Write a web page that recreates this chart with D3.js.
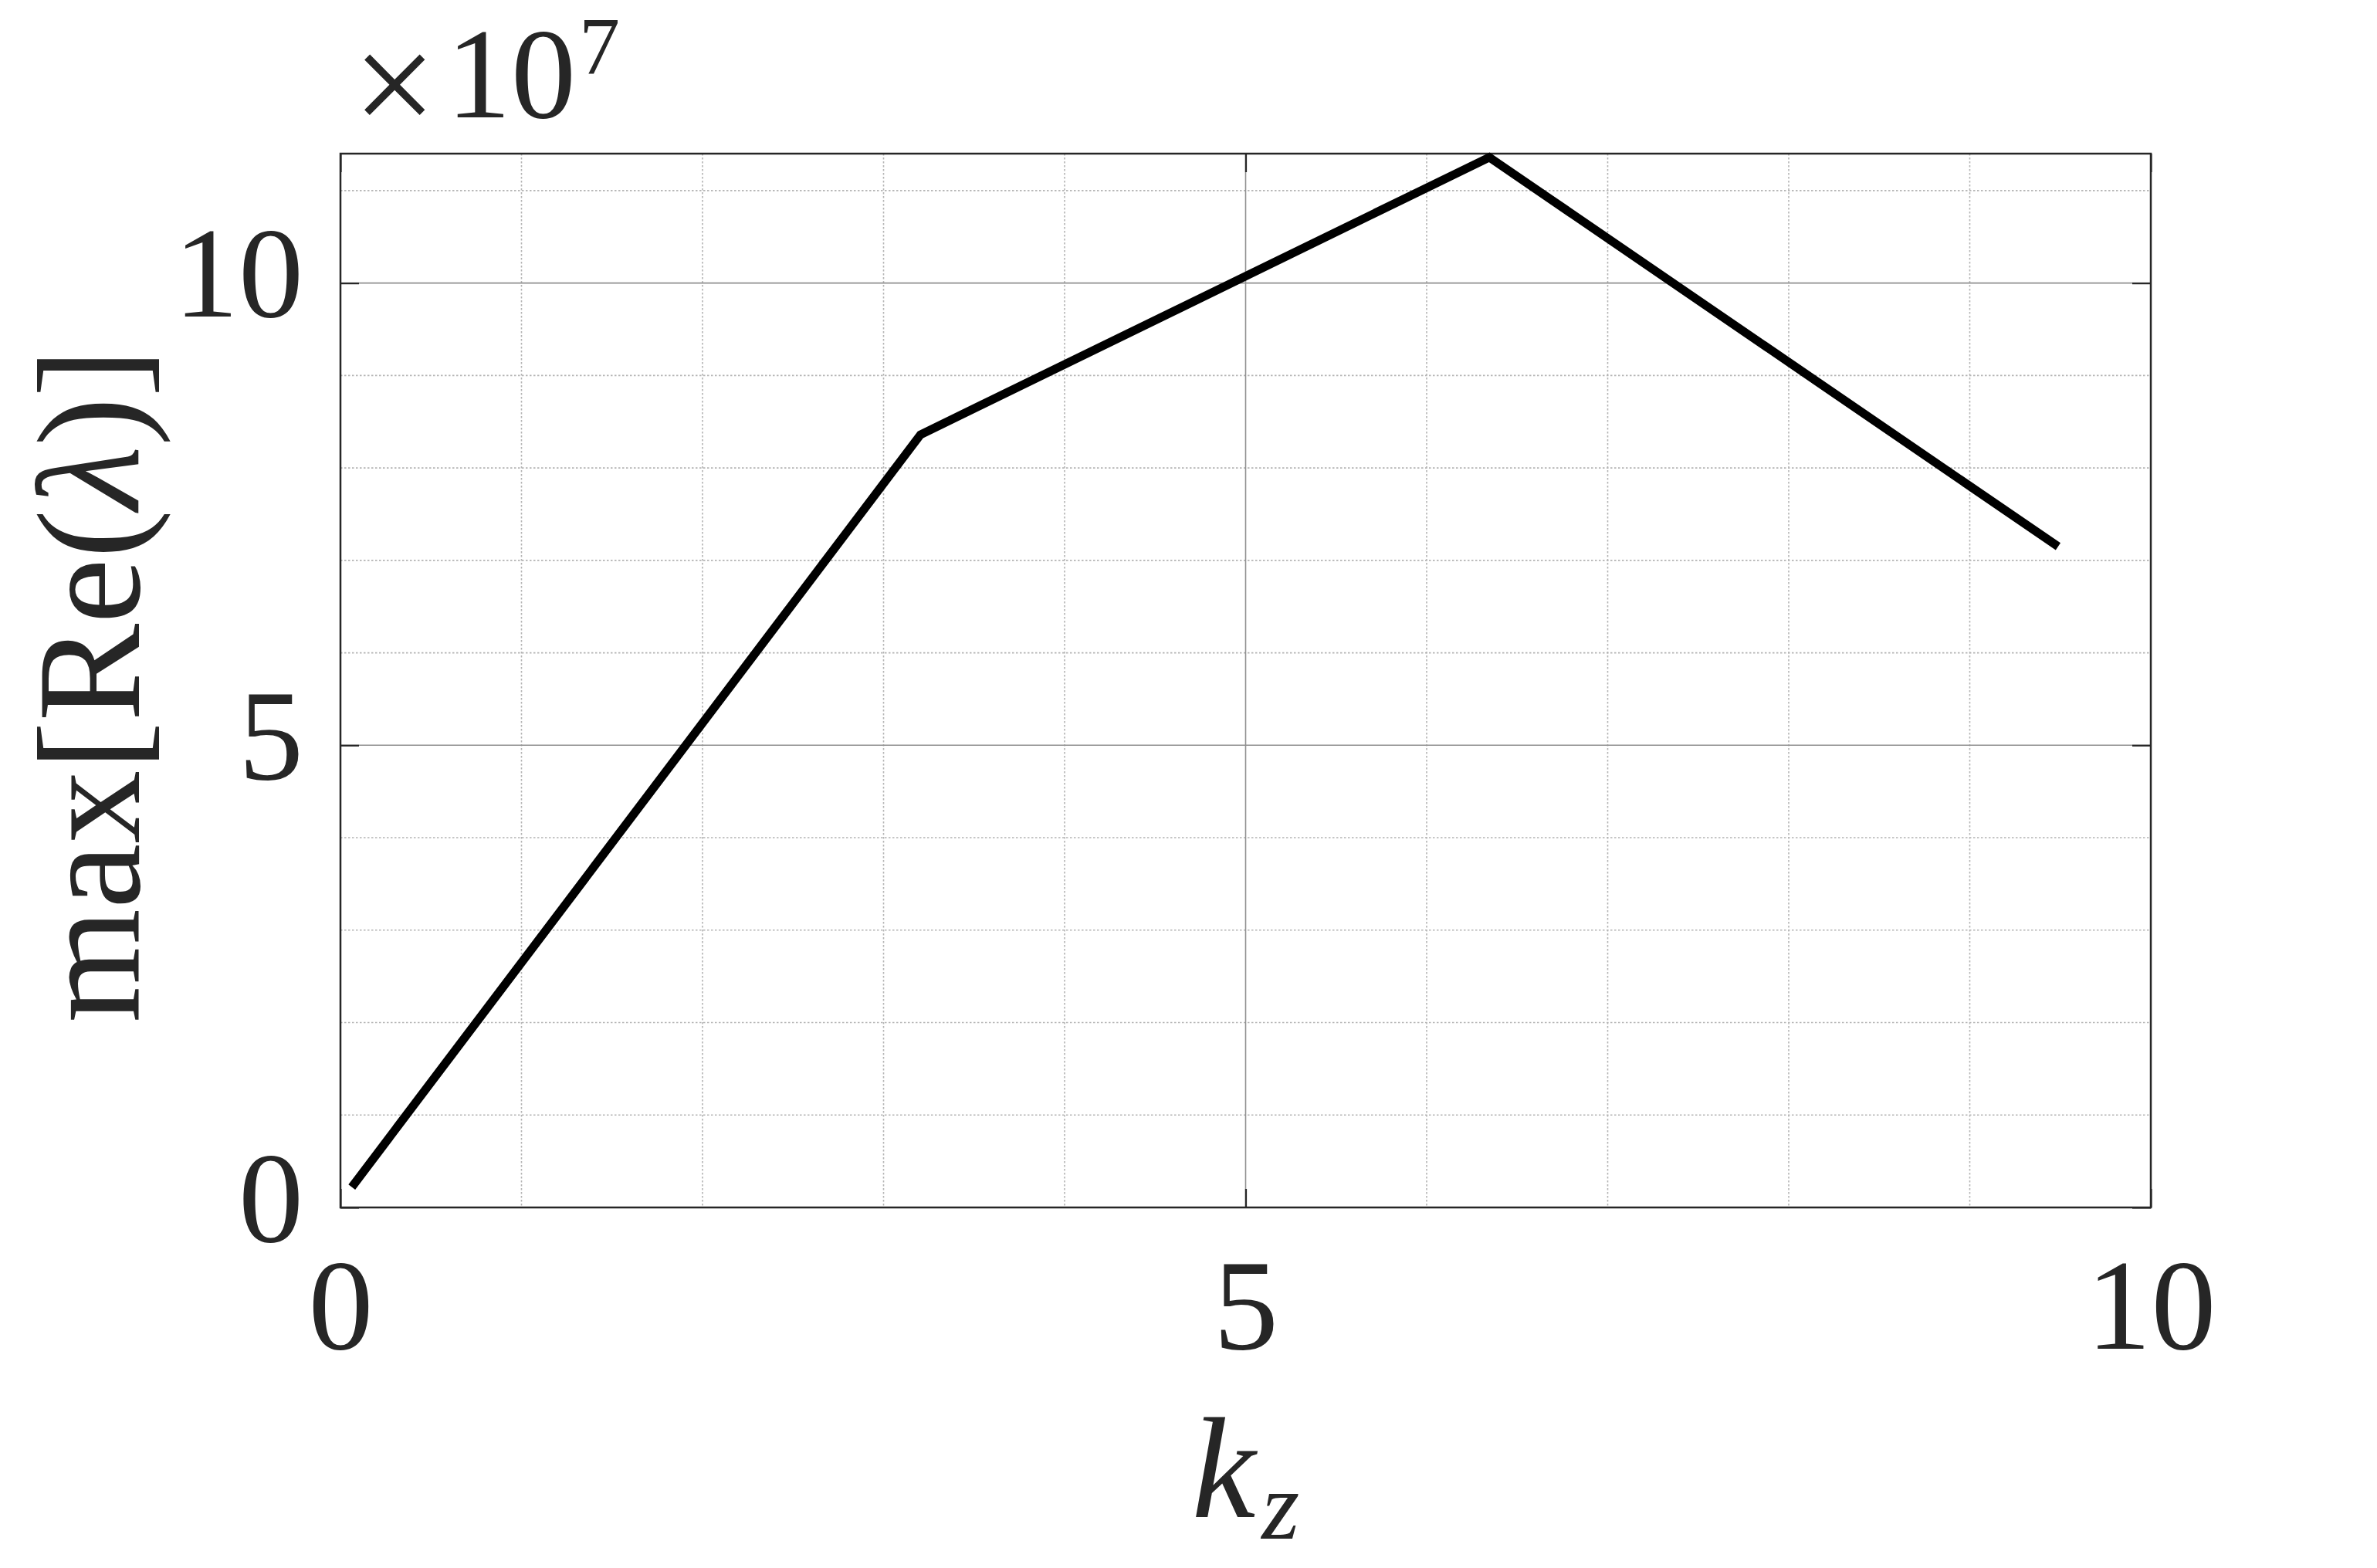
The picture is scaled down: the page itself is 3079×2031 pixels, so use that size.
<!DOCTYPE html>
<html>
<head>
<meta charset="utf-8">
<script src="https://cdn.jsdelivr.net/npm/d3@7"></script>
<style>
  html, body { margin: 0; padding: 0; background: #fff; }
  svg { display: block; }
  text { font-family: "Liberation Serif", "DejaVu Serif", serif; fill: #262626; }
</style>
</head>
<body>
<script>
// ---- data ----
const kz = [0.0628, 3.204, 6.346, 9.488];
const maxRe = [0.22, 8.36, 11.36, 7.15];
const xMajorTicks = [0, 5, 10];
const yMajorTicks = [0, 5, 10];
const xMinorTicks = [0, 1, 2, 3, 4, 5, 6, 7, 8, 9, 10];
const yMinorTicks = [0, 1, 2, 3, 4, 5, 6, 7, 8, 9, 10, 11];
const xTickLabels = ["0", "5", "10"];
const yTickLabels = ["0", "5", "10"];

const W = 3079, H = 2031;
const L = 441, R = 2786, T = 199, B = 1564;

const svg = d3.select("body").append("svg").attr("width", W).attr("height", H);

const x = d3.scaleLinear().domain([0, 10]).range([L, R]);
const y = d3.scaleLinear().domain([0, 11.4]).range([B, T]);

// minor grid (dotted)
const g = svg.append("g");
g.selectAll("line.mx").data(xMinorTicks.filter(d => !xMajorTicks.includes(d))).enter().append("line")
  .attr("x1", d => x(d)).attr("x2", d => x(d)).attr("y1", T).attr("y2", B)
  .attr("stroke", "#b4b4b4").attr("stroke-width", 1.6).attr("stroke-dasharray", "2.5,2.5");
g.selectAll("line.my").data(yMinorTicks.filter(d => !yMajorTicks.includes(d))).enter().append("line")
  .attr("y1", d => y(d)).attr("y2", d => y(d)).attr("x1", L).attr("x2", R)
  .attr("stroke", "#b4b4b4").attr("stroke-width", 1.6).attr("stroke-dasharray", "2.5,2.5");
// major grid
g.selectAll("line.Mx").data(xMajorTicks).enter().append("line")
  .attr("x1", d => x(d)).attr("x2", d => x(d)).attr("y1", T).attr("y2", B)
  .attr("stroke", "#8f8f8f").attr("stroke-width", 1.6);
g.selectAll("line.My").data(yMajorTicks).enter().append("line")
  .attr("y1", d => y(d)).attr("y2", d => y(d)).attr("x1", L).attr("x2", R)
  .attr("stroke", "#8f8f8f").attr("stroke-width", 1.6);

// axes with inward ticks
const tickLen = 24;
const xAxisB = d3.axisBottom(x).tickValues(xMajorTicks).tickSize(-tickLen).tickFormat((d, i) => xTickLabels[i]);
const xAxisT = d3.axisTop(x).tickValues(xMajorTicks).tickSize(-tickLen).tickFormat("");
const yAxisL = d3.axisLeft(y).tickValues(yMajorTicks).tickSize(-tickLen).tickFormat((d, i) => yTickLabels[i]);
const yAxisR = d3.axisRight(y).tickValues(yMajorTicks).tickSize(-tickLen).tickFormat("");

function style(sel) {
  sel.select(".domain").remove();
  sel.selectAll(".tick line").attr("stroke", "#262626").attr("stroke-width", 2.2);
}
const gxb = svg.append("g").attr("transform", `translate(0,${B})`).call(xAxisB).call(style);
gxb.selectAll(".tick text").attr("font-size", 168).attr("font-family", "Liberation Serif")
  .attr("fill", "#262626").attr("y", 0).attr("dy", 183);
svg.append("g").attr("transform", `translate(0,${T})`).call(xAxisT).call(style);
const gyl = svg.append("g").attr("transform", `translate(${L},0)`).call(yAxisL).call(style);
gyl.selectAll(".tick text").attr("font-size", 168).attr("font-family", "Liberation Serif")
  .attr("fill", "#262626").attr("x", -48).attr("dy", 43).attr("text-anchor", "end");
svg.append("g").attr("transform", `translate(${R},0)`).call(yAxisR).call(style);

// box
svg.append("rect").attr("x", L).attr("y", T).attr("width", R - L).attr("height", B - T)
  .attr("fill", "none").attr("stroke", "#262626").attr("stroke-width", 2.5);

// data line
const line = d3.line().x((d, i) => x(kz[i])).y(d => y(d));
svg.append("path").datum(maxRe).attr("d", line)
  .attr("fill", "none").attr("stroke", "#000").attr("stroke-width", 11)
  .attr("stroke-linejoin", "miter");

// exponent label
svg.append("text").attr("x", 457).attr("y", 174).attr("font-size", 192).text("×");
const ex = svg.append("text").attr("x", 578).attr("y", 152).attr("font-size", 168);
ex.append("tspan").text("10");
ex.append("tspan").attr("font-size", 106).attr("dy", -56).attr("dx", 4).text("7");

// x label
const xl = svg.append("text").attr("x", (L + R) / 2).attr("y", 1965).attr("text-anchor", "middle")
  .attr("font-size", 186);
xl.append("tspan").attr("font-style", "italic").text("k");
xl.append("tspan").attr("font-style", "italic").attr("font-size", 126).attr("dy", 28).attr("dx", 8).text("z");

// y label
const yl = svg.append("text").attr("transform", `translate(180,888) rotate(-90)`)
  .attr("text-anchor", "middle").attr("font-size", 190);
yl.append("tspan").text("max[Re(");
yl.append("tspan").attr("font-style", "italic").text("λ");
yl.append("tspan").text(")]");
</script>
</body>
</html>
